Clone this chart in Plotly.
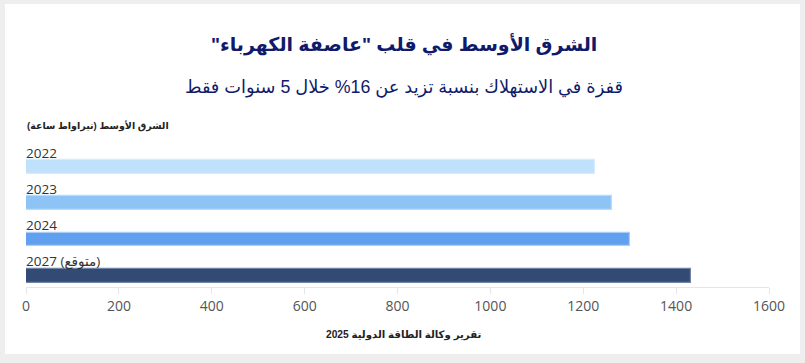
import plotly.graph_objects as go

years = ["2022", "2023", "2024", "2027 (متوقع)"]
values = [1225, 1261, 1300, 1431]
colors = ["#bfe1fb", "#8ec3f6", "#619fef", "#334a75"]
line_colors = ["#d6ecfd", "#b9dafa", "#a9cdf7", "#6e82a6"]
tick_vals = [0, 200, 400, 600, 800, 1000, 1200, 1400, 1600]

RLM = "\u200f"
title = "الشرق الأوسط في قلب \"عاصفة الكهرباء\""
subtitle = "قفزة في الاستهلاك بنسبة تزيد عن 16% خلال 5 سنوات فقط"
axis_label = "الشرق الأوسط (تيراواط ساعة)"
source = "تقرير وكالة الطاقة الدولية 2025"

pos = list(range(len(years)))

fig = go.Figure()
fig.add_trace(go.Bar(
    x=values, y=pos, orientation="h",
    marker=dict(color=colors, line=dict(color=line_colors, width=1.2)),
    width=0.38, offset=0.0, showlegend=False, hoverinfo="skip",
))

W, H = 805, 363
L, R, T, B = 26, 36, 142, 76
pw, ph = W - L - R, H - T - B

def px(x):
    return (x - L) / pw

def py(y):
    return (H - B - y) / ph

fig.add_shape(type="rect", xref="paper", yref="paper",
              x0=px(5), x1=px(800), y0=py(354), y1=py(4),
              fillcolor="white", line=dict(width=0), layer="below")

for i, yl in enumerate(years):
    fig.add_annotation(x=0, y=i - 0.21, xref="x", yref="y", text=yl,
                       showarrow=False, xanchor="left", yanchor="middle",
                       xshift=-2,
                       font=dict(family="Open Sans, DejaVu Sans", size=13.5, color="#333333"))

arab = "Arial, Liberation Sans, DejaVu Sans, sans-serif"
fig.add_annotation(x=px(404), y=py(44), xref="paper", yref="paper",
                   text="<b>" + RLM + title + RLM + "</b>", showarrow=False,
                   xanchor="center", yanchor="middle",
                   font=dict(family=arab, size=19, color="#101a6b"))
fig.add_annotation(x=px(404), y=py(88), xref="paper", yref="paper",
                   text=RLM + subtitle + RLM, showarrow=False,
                   xanchor="center", yanchor="middle",
                   font=dict(family=arab, size=17.8, color="#101a6b"))
fig.add_annotation(x=0, y=py(126), xref="paper", yref="paper",
                   text="<b>" + RLM + axis_label + RLM + "</b>", showarrow=False,
                   xanchor="left", yanchor="middle", xshift=-1,
                   font=dict(family=arab, size=9.5, color="#222222"))
fig.add_annotation(x=px(404), y=py(335), xref="paper", yref="paper",
                   text="<b>" + RLM + source + RLM + "</b>", showarrow=False,
                   xanchor="center", yanchor="middle",
                   font=dict(family=arab, size=10.2, color="#222222"))

fig.update_layout(
    width=W, height=H,
    margin=dict(l=L, r=R, t=T, b=B, pad=0),
    paper_bgcolor="#eeeeee",
    plot_bgcolor="#f2fafd",
    bargap=0,
    xaxis=dict(range=[0, 1600], tickvals=tick_vals, showgrid=False, zeroline=False,
               showline=True, linecolor="#e3e7ea", linewidth=1,
               ticks="outside", ticklen=6, tickcolor="#e3e7ea",
               tickfont=dict(family="Open Sans, DejaVu Sans", size=14, color="#555555"),
               fixedrange=True),
    yaxis=dict(range=[3.5, -0.5], showgrid=False, zeroline=False, showticklabels=False,
               showline=False, fixedrange=True),
)

fig.write_html("out.html", config={"displayModeBar": False},
               post_script="document.body.style.margin='0';document.body.style.overflow='hidden';")
